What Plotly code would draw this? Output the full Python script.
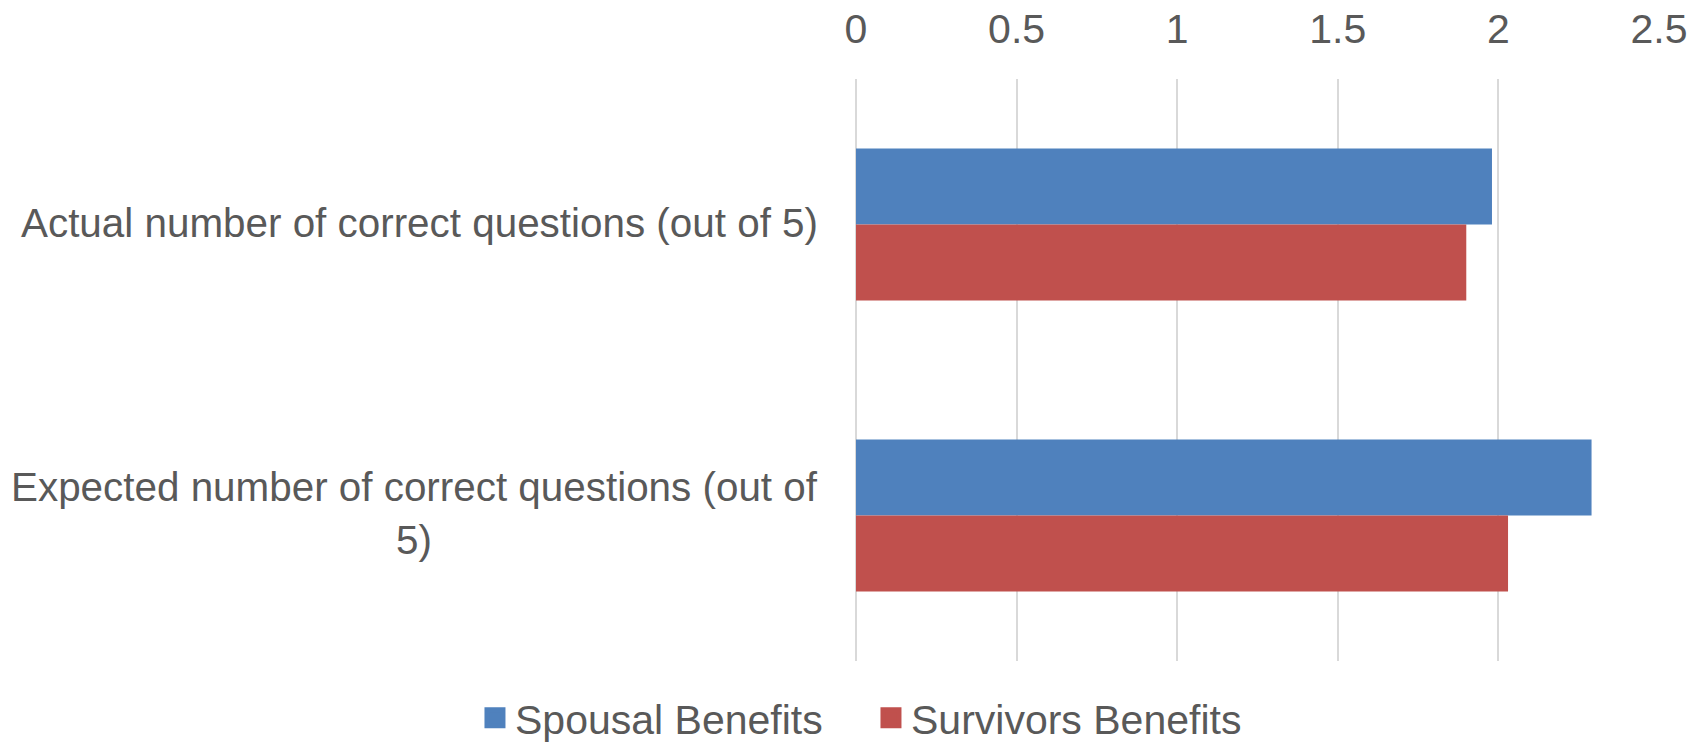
import plotly.graph_objects as go

categories = ["Actual number of correct questions (out of 5)",
              "Expected number of correct questions (out of 5)"]
category_labels = ["Actual number of correct questions (out of 5)",
                   "Expected number of correct questions (out of<br>5)"]
series_names = ["Spousal Benefits", "Survivors Benefits"]
spousal = [1.98, 2.29]
survivors = [1.90, 2.03]
x_ticks = [0, 0.5, 1, 1.5, 2, 2.5]
x_tick_labels = ["0", "0.5", "1", "1.5", "2", "2.5"]

colors = ["#4F81BD", "#C0504D"]
FONT = "Liberation Sans, Arial, sans-serif"
GRAY = "#595959"
FS = 41

fig = go.Figure()
for name, vals, col in zip(series_names, [spousal, survivors], colors):
    fig.add_trace(go.Bar(y=categories, x=vals, orientation="h", name=name,
                         marker=dict(color=col, line=dict(width=0)),
                         showlegend=False))
    fig.add_trace(go.Scatter(x=[None], y=[None], mode="markers", name=name,
                             marker=dict(symbol="square", size=23, color=col,
                                         line=dict(width=6, color=col)),
                             showlegend=True))

for cat, lab in zip(categories, category_labels):
    fig.add_annotation(x=0, xref="paper", y=cat, yref="y", text=lab,
                       showarrow=False, xanchor="right", yanchor="middle",
                       align="center", xshift=-36, yshift=2,
                       font=dict(family=FONT, size=40.4, color=GRAY))

fig.update_layout(
    width=1694, height=742,
    margin=dict(l=856, r=35, t=79, b=81, autoexpand=False),
    paper_bgcolor="white", plot_bgcolor="white",
    barmode="group", bargap=0.478, bargroupgap=0,
    font=dict(family=FONT, size=FS, color=GRAY),
    legend=dict(orientation="h", x=-0.4745, xanchor="left", y=-0.098, yanchor="middle",
                font=dict(family=FONT, size=FS, color=GRAY),
                itemsizing="trace", entrywidth=351, entrywidthmode="pixels",
                bgcolor="rgba(0,0,0,0)"),
    xaxis=dict(side="top", range=[0, 2.5], tickvals=x_ticks, ticktext=x_tick_labels,
               showgrid=True, gridcolor="#D9D9D9", gridwidth=1.5,
               zeroline=True, zerolinecolor="#D9D9D9", zerolinewidth=1.5,
               showline=False, ticks="", ticklabelstandoff=27,
               tickfont=dict(family=FONT, size=FS, color=GRAY), fixedrange=True),
    yaxis=dict(categoryorder="array", categoryarray=categories, autorange="reversed",
               showticklabels=False, showgrid=False, zeroline=False, showline=False,
               ticks="", fixedrange=True),
)

fig.write_html("out.html")
